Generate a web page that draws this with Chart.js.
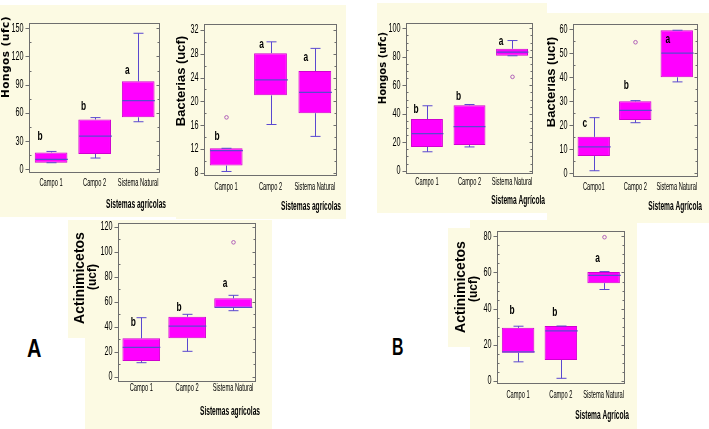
<!DOCTYPE html>
<html>
<head>
<meta charset="utf-8">
<script src="https://cdn.jsdelivr.net/npm/chart.js@4.4.1/dist/chart.umd.min.js"></script>
<style>
  body { margin: 0; width: 709px; height: 429px; background: #fff; position: relative; overflow: hidden; }
  canvas { position: absolute; }
  .panel { position: absolute; font-family: 'Liberation Sans', Arial, sans-serif; font-weight: bold;
           color: #000; line-height: 1; transform-origin: left top; }
</style>
</head>
<body>
<div class="panel" style="left:27px;top:336px;font-size:25px;transform:scaleX(0.8)">A</div>
<div class="panel" style="left:392px;top:335px;font-size:24px;transform:scaleX(0.66)">B</div>

<canvas id="hongosA"></canvas>
<canvas id="bacteriasA"></canvas>
<canvas id="actinoA"></canvas>
<canvas id="hongosB"></canvas>
<canvas id="bacteriasB"></canvas>
<canvas id="actinoB"></canvas>

<script>
// Categorias do eixo x
const categorias = ['Campo 1', 'Campo 2', 'Sistema Natural'];
const categoriasBacB = ['Campo1', 'Campo 2', 'Sistema Natural'];

// Hongos - painel A
const hongosA_ticks = [0, 30, 60, 90, 120, 150];
const hongosA_min = [7, 12, 50.6];
const hongosA_q1 = [7, 16.3, 55.3];
const hongosA_mediana = [10.6, 35.4, 73];
const hongosA_q3 = [18, 53, 93.6];
const hongosA_max = [19, 55, 144.7];
const hongosA_atipicos = [[], [], []];
const hongosA_letras = ['b', 'b', 'a'];
const hongosA_nivelLetra = [34.7, 66.6, 105.6];

// Bacterias - painel A
const bacteriasA_ticks = [8, 12, 16, 20, 24, 28, 32];
const bacteriasA_min = [8.2, 16.1, 14.1];
const bacteriasA_q1 = [9.2, 21.0, 18.0];
const bacteriasA_mediana = [11.7, 23.6, 21.5];
const bacteriasA_q3 = [12.1, 28.1, 25.1];
const bacteriasA_max = [12.1, 30.0, 28.9];
const bacteriasA_atipicos = [[17.3], [], []];
const bacteriasA_letras = ['b', 'a', 'a'];
const bacteriasA_nivelLetra = [14.1, 29.6, 27.4];

// Actinimicetos - painel A
const actinoA_ticks = [0, 20, 40, 60, 80, 100, 120];
const actinoA_min = [11.2, 20.3, 52.8];
const actinoA_q1 = [12.5, 30.7, 55.2];
const actinoA_mediana = [23.5, 40.5, 55.5];
const actinoA_q3 = [30.7, 48, 62.7];
const actinoA_max = [47.2, 49.9, 65.1];
const actinoA_atipicos = [[], [], [107.5]];
const actinoA_letras = ['b', 'b', 'a'];
const actinoA_nivelLetra = [43.2, 55.5, 74.7];

// Hongos - painel B
const hongosB_ticks = [0, 20, 40, 60, 80, 100];
const hongosB_min = [13.3, 16.7, 80.7];
const hongosB_q1 = [16.7, 18, 80.7];
const hongosB_mediana = [26, 31, 83.3];
const hongosB_q3 = [36.3, 46, 85.6];
const hongosB_max = [45.6, 46.5, 91.4];
const hongosB_atipicos = [[], [], [65.9]];
const hongosB_letras = ['b', 'b', 'a'];
const hongosB_nivelLetra = [43.1, 52, 90.6];

// Bacterias - painel B
const bacteriasB_ticks = [0, 10, 20, 30, 40, 50, 60];
const bacteriasB_min = [1.1, 21.1, 38.1];
const bacteriasB_q1 = [7.2, 22.2, 40];
const bacteriasB_mediana = [11, 26.2, 50.1];
const bacteriasB_q3 = [15.2, 30, 59.6];
const bacteriasB_max = [23.2, 30.3, 59.6];
const bacteriasB_atipicos = [[], [54.6], []];
const bacteriasB_letras = ['c', 'b', 'a'];
const bacteriasB_nivelLetra = [20.8, 36.7, 55.8];

// Actinimicetos - painel B
const actinoB_ticks = [0, 20, 40, 60, 80];
const actinoB_min = [10.6, 1.5, 50.6];
const actinoB_q1 = [15.6, 11.6, 54.1];
const actinoB_mediana = [16.1, 27.7, 58.4];
const actinoB_q3 = [29.4, 30.4, 60.3];
const actinoB_max = [30.3, 30.4, 60.5];
const actinoB_atipicos = [[], [], [79.5]];
const actinoB_letras = ['b', 'b', 'a'];
const actinoB_nivelLetra = [39.1, 37.8, 67.9];

const FONTE = "'Liberation Sans', Arial, sans-serif";
const BEGE = '#fcfae3';

// Escreve texto comprimido na horizontal (como no original)
const texto = (ctx, str, x, y, fonte, alinhar, sx, rot) => {
  ctx.save();
  ctx.translate(x, y);
  if (rot) ctx.rotate(-Math.PI / 2);
  ctx.scale(sx, 1);
  ctx.font = fonte;
  ctx.textAlign = alinhar;
  ctx.textBaseline = 'middle';
  ctx.fillStyle = '#000';
  ctx.fillText(str, 0, 0);
  ctx.restore();
};

// Plugin que desenha fundo, bigodes, medianas, moldura e textos
const pluginCaixas = {
  id: 'caixas',
  beforeDraw(chart, args, o) {
    const ctx = chart.ctx;
    ctx.save();
    ctx.fillStyle = BEGE;
    o.fundo.forEach(r => ctx.fillRect(r[0], r[1], r[2], r[3]));
    ctx.restore();
  },
  afterDatasetsDraw(chart, args, o) {
    const ctx = chart.ctx, sx = chart.scales.x, sy = chart.scales.y, a = chart.chartArea;
    const meta = chart.getDatasetMeta(0);
    const [L, T] = o.origem;
    ctx.save();

    // bigodes e medianas
    ctx.strokeStyle = '#5a48d0';
    ctx.lineWidth = 1;
    meta.data.forEach((barra, i) => {
      const cx = Math.round(barra.x) + 0.5, meia = barra.width / 2;
      const yMax = sy.getPixelForValue(o.max[i]), yQ3 = sy.getPixelForValue(o.q3[i]);
      const yMin = sy.getPixelForValue(o.min[i]), yQ1 = sy.getPixelForValue(o.q1[i]);
      ctx.beginPath();
      ctx.moveTo(cx, yQ3); ctx.lineTo(cx, yMax);
      ctx.moveTo(cx - 5, yMax); ctx.lineTo(cx + 5, yMax);
      ctx.moveTo(cx, yQ1); ctx.lineTo(cx, yMin);
      ctx.moveTo(cx - 5, yMin); ctx.lineTo(cx + 5, yMin);
      ctx.stroke();
      const yMed = sy.getPixelForValue(o.mediana[i]);
      ctx.beginPath();
      ctx.lineWidth = 1.3;
      ctx.moveTo(cx - meia, yMed); ctx.lineTo(cx + meia, yMed);
      ctx.stroke();
      ctx.lineWidth = 1;
      // valores atipicos
      o.atipicos[i].forEach(v => {
        ctx.beginPath();
        ctx.strokeStyle = '#b060b8';
        ctx.arc(cx, sy.getPixelForValue(v), 1.8, 0, Math.PI * 2);
        ctx.stroke();
        ctx.strokeStyle = '#5a48d0';
      });
      // letras de significancia
      texto(ctx, o.letras[i], barra.x + o.desloc, sy.getPixelForValue(o.nivelLetra[i]),
        'bold 13.5px ' + FONTE, 'center', 0.62);
    });

    // moldura
    ctx.strokeStyle = '#6e6e6e';
    ctx.lineWidth = 1;
    const l = Math.round(a.left) + 0.5, r = Math.round(a.right) - 0.5;
    const t = Math.round(a.top) + 0.5, b = Math.round(a.bottom) - 0.5;
    ctx.strokeRect(l, t, r - l, b - t);

    // marcas e rotulos do eixo y
    ctx.beginPath();
    o.ticks.forEach((v, k) => {
      const py = Math.round(sy.getPixelForValue(v)) + 0.5;
      ctx.moveTo(l - 4, py); ctx.lineTo(l, py);
      ctx.moveTo(r - 3, py); ctx.lineTo(r, py);
      if (k < o.ticks.length - 1) {
        const passo = (o.ticks[k + 1] - v) / o.menores;
        for (let m = 1; m < o.menores; m++) {
          const pm = Math.round(sy.getPixelForValue(v + passo * m)) + 0.5;
          ctx.moveTo(l, pm); ctx.lineTo(l + 2, pm);
          ctx.moveTo(r - 2, pm); ctx.lineTo(r, pm);
        }
      }
      texto(ctx, String(v), l - 6, sy.getPixelForValue(v), '12.5px ' + FONTE, 'right', 0.58);
    });
    ctx.stroke();

    // rotulos das categorias
    o.categorias.forEach((c, i) => {
      texto(ctx, c, sx.getPixelForValue(i), o.yCategoria - T, '11px ' + FONTE, 'center', 0.52);
    });

    // titulo do eixo x
    texto(ctx, o.tituloX[0], o.tituloX[1] - L, o.tituloX[2] - T, 'bold 12.5px ' + FONTE, 'right', 0.53);

    // titulo do eixo y
    o.tituloY.forEach(ti => {
      ctx.save();
      ctx.letterSpacing = ti[4] || '0px';
      texto(ctx, ti[0], ti[1] - L, ti[2] - T, ti[3], 'center', 1, true);
      ctx.restore();
    });
    ctx.restore();
  }
};

// Cria um grafico de caixas a partir das series
const criarGrafico = (id, caixa, marco, faixa, series, extras) => {
  const [L, T, W, H] = caixa;
  const [ml, mr, mt, mb] = marco;
  const canvas = document.getElementById(id);
  canvas.width = W; canvas.height = H;
  canvas.style.left = L + 'px'; canvas.style.top = T + 'px';
  return new Chart(canvas.getContext('2d'), {
    type: 'bar',
    data: {
      labels: extras.categorias,
      datasets: [{
        data: series.q1.map((v, i) => [v, series.q3[i]]),
        backgroundColor: '#ff00ff',
        borderColor: '#d000d0',
        borderWidth: 1,
        borderSkipped: false,
        barPercentage: extras.largura,
        categoryPercentage: 1
      }]
    },
    options: {
      responsive: false,
      animation: false,
      layout: { padding: { top: mt - T, right: L + W - mr, left: 0, bottom: 0 } },
      plugins: {
        legend: { display: false },
        tooltip: { enabled: false },
        caixas: Object.assign({ origem: [L, T] }, series, extras)
      },
      scales: {
        x: {
          ticks: { display: false },
          grid: { display: false },
          border: { display: false },
          afterFit(s) { s.height = T + H - mb; }
        },
        y: {
          min: faixa[0],
          max: faixa[1],
          ticks: { display: false },
          grid: { display: false },
          border: { display: false },
          afterFit(s) { s.width = ml - L; },
          afterBuildTicks(s) { s.ticks = series.ticks.map(v => ({ value: v })); }
        }
      }
    },
    plugins: [pluginCaixas]
  });
};

const serie = (ticks, min, q1, mediana, q3, max, atipicos, letras, nivelLetra) =>
  ({ ticks, min, q1, mediana, q3, max, atipicos, letras, nivelLetra });

criarGrafico('hongosA', [0, 5, 176, 212], [29.3, 160, 23.3, 172.7], [-3.6, 155.3],
  serie(hongosA_ticks, hongosA_min, hongosA_q1, hongosA_mediana, hongosA_q3, hongosA_max,
    hongosA_atipicos, hongosA_letras, hongosA_nivelLetra),
  { categorias, largura: 0.75, desloc: -11, menores: 2, yCategoria: 183,
    tituloX: ['Sistemas agrícolas', 166, 205],
    tituloY: [['Hongos (ufc)', 6, 57, 'bold 10.5px "DejaVu Sans"', '0.5px']],
    fundo: [[0, 0, 176, 212]] });

criarGrafico('bacteriasA', [176, 5, 170, 214], [204, 337, 24, 176], [7.44, 33.0],
  serie(bacteriasA_ticks, bacteriasA_min, bacteriasA_q1, bacteriasA_mediana, bacteriasA_q3, bacteriasA_max,
    bacteriasA_atipicos, bacteriasA_letras, bacteriasA_nivelLetra),
  { categorias, largura: 0.74, desloc: -9, menores: 2, yCategoria: 187,
    tituloX: ['Sistemas agrícolas', 341, 207],
    tituloY: [['Bacterias (ucf)', 181, 81, 'bold 13px ' + FONTE]],
    fundo: [[0, 0, 170, 214]] });

criarGrafico('actinoA', [68, 220, 204, 209], [118.3, 256, 222.7, 381.7], [-4, 123.2],
  serie(actinoA_ticks, actinoA_min, actinoA_q1, actinoA_mediana, actinoA_q3, actinoA_max,
    actinoA_atipicos, actinoA_letras, actinoA_nivelLetra),
  { categorias, largura: 0.82, desloc: -8, menores: 2, yCategoria: 388,
    tituloX: ['Sistemas agrícolas', 260, 412],
    tituloY: [['Actinimicetos', 80, 278, 'bold 14px ' + FONTE], ['(ucf)', 93, 277, 'bold 12px ' + FONTE]],
    fundo: [[0, 0, 204, 118], [17, 0, 187, 209]] });

criarGrafico('hongosB', [377, 3, 170, 210], [405.7, 533.3, 23.3, 174], [-2.3, 103.5],
  serie(hongosB_ticks, hongosB_min, hongosB_q1, hongosB_mediana, hongosB_q3, hongosB_max,
    hongosB_atipicos, hongosB_letras, hongosB_nivelLetra),
  { categorias, largura: 0.75, desloc: -11, menores: 4, yCategoria: 182,
    tituloX: ['Sistema Agrícola', 545, 201],
    tituloY: [['Hongos (ufc)', 383, 68, 'bold 10px "DejaVu Sans"']],
    fundo: [[0, 0, 170, 210]] });

criarGrafico('bacteriasB', [547, 13, 162, 210], [573, 697.5, 24, 176.5], [-1.3, 62.2],
  serie(bacteriasB_ticks, bacteriasB_min, bacteriasB_q1, bacteriasB_mediana, bacteriasB_q3, bacteriasB_max,
    bacteriasB_atipicos, bacteriasB_letras, bacteriasB_nivelLetra),
  { categorias: categoriasBacB, largura: 0.78, desloc: -9, menores: 2, yCategoria: 187,
    tituloX: ['Sistema Agrícola', 702, 207],
    tituloY: [['Bacterias (ucf)', 551, 82, 'bold 13px ' + FONTE]],
    fundo: [[0, 0, 162, 210]] });

criarGrafico('actinoB', [448, 220, 189, 209], [496.7, 625, 230.7, 384], [-1.65, 83.1],
  serie(actinoB_ticks, actinoB_min, actinoB_q1, actinoB_mediana, actinoB_q3, actinoB_max,
    actinoB_atipicos, actinoB_letras, actinoB_nivelLetra),
  { categorias, largura: 0.76, desloc: -6, menores: 4, yCategoria: 395,
    tituloX: ['Sistema Agrícola', 629, 416],
    tituloY: [['Actinimicetos', 461, 287, 'bold 14px ' + FONTE], ['(ucf)', 474, 289, 'bold 12px ' + FONTE]],
    fundo: [[22, 0, 167, 209], [0, 8, 22, 119]] });
</script>
</body>
</html>
